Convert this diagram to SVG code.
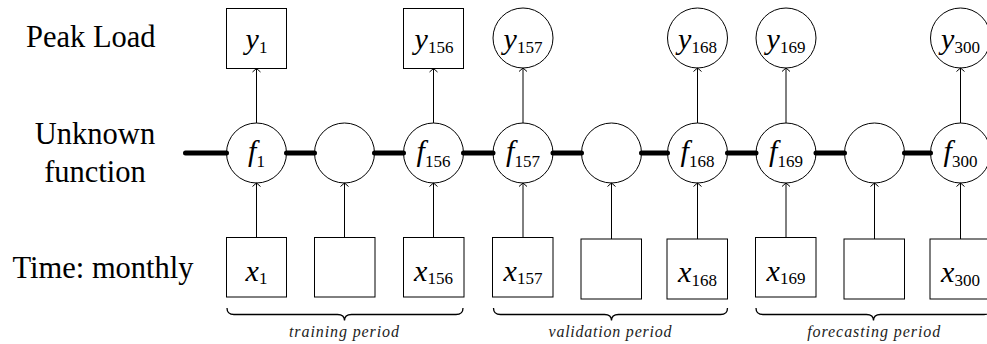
<svg xmlns="http://www.w3.org/2000/svg" width="987" height="344" viewBox="0 0 987 344" font-family="Liberation Serif, Times New Roman, serif">
<style>
.lbl{font-size:30.5px;fill:#000}
.nl{font-size:30px;font-style:italic;fill:#000;text-anchor:middle}
.sub{font-size:17px;font-style:normal}
.per{font-size:16px;font-style:italic;fill:#222;text-anchor:middle}
.node{fill:#fff;stroke:#000;stroke-width:1}
.arr{stroke:#000;stroke-width:1;fill:none;marker-end:url(#ah)}
.thick{stroke:#000;stroke-width:5;stroke-linecap:round;fill:none}
.brace{stroke:#000;stroke-width:1.3;fill:none}
</style>
<defs>
<marker id="ah" viewBox="-5 -5 10 10" refX="0" refY="0" markerWidth="10" markerHeight="10" markerUnits="userSpaceOnUse" orient="auto">
<path d="M-3.5,-4 L0,0 L-3.5,4" fill="none" stroke="#000" stroke-width="1"/>
</marker>
</defs>
<rect width="987" height="344" fill="#fff"/>
<g id="row-labels" font-family="Liberation Serif, serif">
<text class="lbl" x="26" y="47" font-family="Liberation Serif, serif">Peak Load</text>
<text class="lbl" x="95" y="144" text-anchor="middle" font-family="Liberation Serif, serif">Unknown</text>
<text class="lbl" x="95" y="181.5" text-anchor="middle" font-family="Liberation Serif, serif">function</text>
<text class="lbl" x="12.5" y="277.5" font-family="Liberation Serif, serif">Time: monthly</text>
</g>
<g id="outputs" font-family="Liberation Serif, serif">
<g id="y1"><rect class="node" x="226.5" y="8.5" width="60" height="60"/><text class="nl" x="256.5" y="48.5">y<tspan class="sub" dy="4.5">1</tspan></text></g>
<g id="y156"><rect class="node" x="403.5" y="8.5" width="60" height="60"/><text class="nl" x="434" y="48.5">y<tspan class="sub" dy="4.5">156</tspan></text></g>
<g id="y157"><circle class="node" cx="523" cy="38" r="30"/><text class="nl" x="523" y="48.5">y<tspan class="sub" dy="4.5">157</tspan></text></g>
<g id="y168"><circle class="node" cx="697.5" cy="38" r="30"/><text class="nl" x="697.5" y="48.5">y<tspan class="sub" dy="4.5">168</tspan></text></g>
<g id="y169"><circle class="node" cx="786" cy="38" r="30"/><text class="nl" x="786" y="48.5">y<tspan class="sub" dy="4.5">169</tspan></text></g>
<g id="y300"><circle class="node" cx="960.5" cy="38" r="30"/><text class="nl" x="960.5" y="48.5">y<tspan class="sub" dy="4.5">300</tspan></text></g>
</g>
<g id="functions" font-family="Liberation Serif, serif">
<g id="f1"><circle class="node" cx="256.5" cy="153" r="30"/><text class="nl" x="256.5" y="161">f<tspan class="sub" dy="6">1</tspan></text></g>
<g id="f-a"><circle class="node" cx="344.5" cy="153" r="30"/></g>
<g id="f156"><circle class="node" cx="433.5" cy="153" r="30"/><text class="nl" x="433.5" y="161">f<tspan class="sub" dy="6">156</tspan></text></g>
<g id="f157"><circle class="node" cx="523" cy="153" r="30"/><text class="nl" x="523" y="161">f<tspan class="sub" dy="6">157</tspan></text></g>
<g id="f-b"><circle class="node" cx="611.5" cy="153" r="30"/></g>
<g id="f168"><circle class="node" cx="697.5" cy="153" r="30"/><text class="nl" x="697.5" y="161">f<tspan class="sub" dy="6">168</tspan></text></g>
<g id="f169"><circle class="node" cx="786" cy="153" r="30"/><text class="nl" x="786" y="161">f<tspan class="sub" dy="6">169</tspan></text></g>
<g id="f-c"><circle class="node" cx="874.5" cy="153" r="30"/></g>
<g id="f300"><circle class="node" cx="960.5" cy="153" r="30"/><text class="nl" x="960.5" y="161">f<tspan class="sub" dy="6">300</tspan></text></g>
</g>
<g id="inputs" font-family="Liberation Serif, serif">
<g id="x1"><rect class="node" x="226.5" y="237.5" width="60" height="59.5"/><text class="nl" x="256.5" y="280.5">x<tspan class="sub" dy="3.5">1</tspan></text></g>
<g id="x-a"><rect class="node" x="314.5" y="237.5" width="60.5" height="59.5"/></g>
<g id="x156"><rect class="node" x="403.5" y="237.5" width="60.5" height="59.5"/><text class="nl" x="433.5" y="280.5">x<tspan class="sub" dy="3.5">156</tspan></text></g>
<g id="x157"><rect class="node" x="492.5" y="237.5" width="60.5" height="59.5"/><text class="nl" x="523" y="280.5">x<tspan class="sub" dy="3.5">157</tspan></text></g>
<g id="x-b"><rect class="node" x="581" y="239" width="60.5" height="60"/></g>
<g id="x168"><rect class="node" x="667" y="239" width="60.5" height="60"/><text class="nl" x="697.5" y="282">x<tspan class="sub" dy="3.5">168</tspan></text></g>
<g id="x169"><rect class="node" x="755.5" y="237.5" width="60.5" height="59.5"/><text class="nl" x="786" y="280.5">x<tspan class="sub" dy="3.5">169</tspan></text></g>
<g id="x-c"><rect class="node" x="844" y="239" width="60.5" height="60"/></g>
<g id="x300"><rect class="node" x="930" y="239" width="60.5" height="60"/><text class="nl" x="960.5" y="282">x<tspan class="sub" dy="3.5">300</tspan></text></g>
</g>
<g id="connectors">
<path class="thick" d="M185.5,153H226.5 M286.5,153H314.5 M374.5,153H403.5 M463.5,153H493 M553,153H581.5 M641.5,153H667.5 M727.5,153H756 M816,153H844.5 M904.5,153H930.5"/>
<line class="arr" x1="256.5" y1="123" x2="256.5" y2="68.5"/>
<line class="arr" x1="433.5" y1="123" x2="433.5" y2="68.5"/>
<line class="arr" x1="523" y1="123" x2="523" y2="68"/>
<line class="arr" x1="697.5" y1="123" x2="697.5" y2="68"/>
<line class="arr" x1="786" y1="123" x2="786" y2="68"/>
<line class="arr" x1="960.5" y1="123" x2="960.5" y2="68"/>
<line class="arr" x1="256.5" y1="237.5" x2="256.5" y2="183"/>
<line class="arr" x1="344.5" y1="237.5" x2="344.5" y2="183"/>
<line class="arr" x1="433.5" y1="237.5" x2="433.5" y2="183"/>
<line class="arr" x1="523" y1="237.5" x2="523" y2="183"/>
<line class="arr" x1="611.5" y1="239" x2="611.5" y2="183"/>
<line class="arr" x1="697.5" y1="239" x2="697.5" y2="183"/>
<line class="arr" x1="786" y1="237.5" x2="786" y2="183"/>
<line class="arr" x1="874.5" y1="239" x2="874.5" y2="183"/>
<line class="arr" x1="960.5" y1="239" x2="960.5" y2="183"/>
</g>
<g id="periods" font-family="Liberation Serif, serif">
<path class="brace" d="M227,308 Q227,314.5 234,314.5 H337.5 Q344.5,314.5 344.5,320.5 Q344.5,314.5 351.5,314.5 H456 Q463,314.5 463,308"/>
<path class="brace" d="M493.5,308 Q493.5,314.5 500.5,314.5 H604.5 Q611.5,314.5 611.5,320.5 Q611.5,314.5 618.5,314.5 H720.5 Q727.5,314.5 727.5,308"/>
<path class="brace" d="M756,308 Q756,314.5 763,314.5 H866.5 Q873.5,314.5 873.5,320.5 Q873.5,314.5 880.5,314.5 H984 Q991,314.5 991,308"/>
<text class="per" x="344" y="337" textLength="110" lengthAdjust="spacing">training period</text>
<text class="per" x="610" y="337" textLength="123" lengthAdjust="spacing">validation period</text>
<text class="per" x="873.7" y="337" textLength="133" lengthAdjust="spacing">forecasting period</text>
</g>
</svg>
